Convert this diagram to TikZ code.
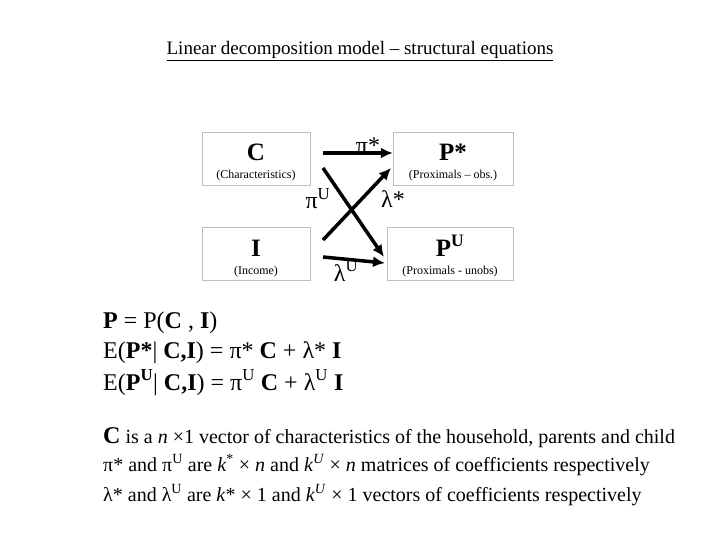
\documentclass[tikz,border=0pt]{standalone}
\usepackage{fontspec}
\usetikzlibrary{arrows.meta}
\setmainfont{Liberation Serif}
\begin{document}
\begin{tikzpicture}[x=1pt,y=-1pt,
  box/.style={draw=black!25,line width=0.4pt,minimum width=108pt,minimum height=53pt,inner sep=0pt},
  arr/.style={line width=3.5pt,-{Latex[length=12pt,width=11pt]}},
  rarr/.style={line width=3.5pt,{Latex[length=12pt,width=11pt]}-},
  lab/.style={font=\fontsize{24}{24}\selectfont},
  txt/.style={anchor=base west,inner sep=0pt}]
\useasboundingbox (0,0) rectangle (720,540);
\node[txt,anchor=base] (title) at (360,55) {\fontsize{19}{19}\selectfont\underline{Linear decomposition model – structural equations}};
\node[box] (C) at (256,158.5) {};
\node[box,minimum width=120pt] (Ps) at (453,158.5) {};
\node[box] (I) at (256,254) {};
\node[box,minimum width=126pt] (Pu) at (450,254) {};
\node[anchor=base] (Ct) at (256,161) {\fontsize{25}{25}\selectfont\bfseries C};
\node[anchor=base] (Cs) at (256,179) {\fontsize{12}{12}\selectfont (Characteristics)};
\node[anchor=base] (Pst) at (453,161) {\fontsize{25}{25}\selectfont\bfseries P*};
\node[anchor=base] (Pss) at (453,179) {\fontsize{12}{12}\selectfont (Proximals – obs.)};
\node[anchor=base] (It) at (256,256) {\fontsize{25}{25}\selectfont\bfseries I};
\node[anchor=base] (Is) at (256,274) {\fontsize{12}{12}\selectfont (Income)};
\node[anchor=base] (Put) at (450,256) {\fontsize{25}{25}\selectfont\bfseries P\textsuperscript{U}};
\node[anchor=base] (Pus) at (450,274) {\fontsize{12}{12}\selectfont (Proximals - unobs)};
\coordinate (a1) at (323,153); \coordinate (a2) at (323,168);
\coordinate (b1) at (323,240); \coordinate (b2) at (323,257);
\coordinate (e1) at (384,257); \coordinate (e2) at (391,168); \coordinate (e3) at (385,263);
\draw[arr] (a1) -- (Ps.west |- a1);
\draw[arr] (a2) -- (e1);
\draw[rarr] (e2) -- (b1);
\draw[arr] (b2) -- (e3);
\node[lab] (l1) at (368,146) {π*};
\node[lab] (l2) at (318,199) {π\textsuperscript{U}};
\node[lab] (l3) at (393,199) {λ*};
\node[lab] (l4) at (346,271) {λ\textsuperscript{U}};
\begin{scope}[every node/.style={txt,font=\fontsize{24}{24}\selectfont}]
\node (q1) at (103,328) {\textbf{P} = P(\textbf{C} , \textbf{I})};
\node (q2) at (103,358) {E(\textbf{P*}| \textbf{C,I}) = π* \textbf{C} + λ* \textbf{I}};
\node (q3) at (103,390) {E(\textbf{P\textsuperscript{U}}| \textbf{C,I}) = π\textsuperscript{U} \textbf{C} + λ\textsuperscript{U} \textbf{I}};
\end{scope}
\begin{scope}[every node/.style={txt,font=\fontsize{20}{20}\selectfont}]
\node (t1) at (103,443) {{\fontsize{24}{24}\selectfont\bfseries C} is a \textit{n} ×1 vector of characteristics of the household, parents and child};
\node (t2) at (103,471) {π* and π\textsuperscript{U} are \textit{k}\textsuperscript{*} × \textit{n} and \textit{k}\textsuperscript{\textit{U}} × \textit{n} matrices of coefficients respectively};
\node (t3) at (103,501) {λ* and λ\textsuperscript{U} are \textit{k}* × 1 and \textit{k}\textsuperscript{\textit{U}} × 1 vectors of coefficients respectively};
\end{scope}
\end{tikzpicture}
\end{document}
